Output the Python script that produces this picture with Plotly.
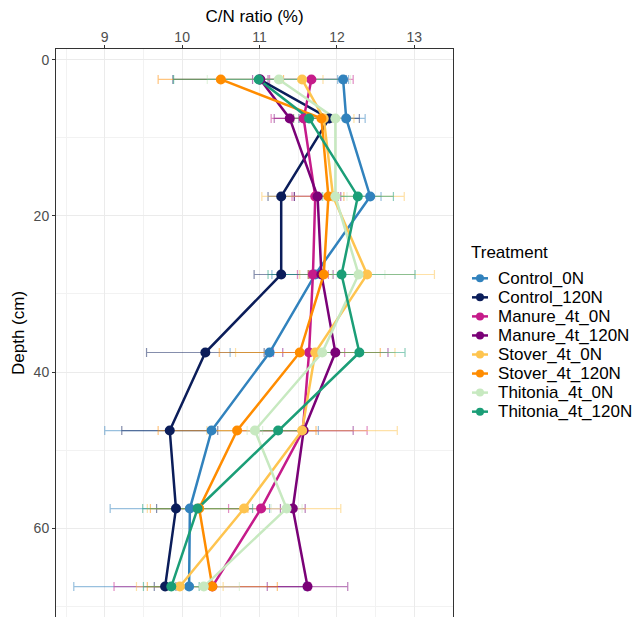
import plotly.graph_objects as go

# Sampling depths (cm)
depth = [2.5, 7.5, 17.5, 27.5, 37.5, 47.5, 57.5, 67.5]

treatments = ["Control_0N", "Control_120N", "Manure_4t_0N", "Manure_4t_120N",
              "Stover_4t_0N", "Stover_4t_120N", "Thitonia_4t_0N", "Thitonia_4t_120N"]

# Mean C/N ratio per depth
control_0n = [12.08, 12.12, 12.43, 11.72, 11.13, 10.38, 10.10, 10.09]
control_120n = [11.00, 11.90, 11.28, 11.28, 10.30, 9.84, 9.92, 9.78]
manure_0n = [11.67, 11.57, 11.72, 11.69, 11.64, 11.56, 11.02, 10.39]
manure_120n = [11.01, 11.39, 11.75, 11.80, 11.98, 11.57, 11.43, 11.62]
stover_0n = [11.55, 11.83, 11.95, 12.39, 11.72, 11.55, 10.80, 9.97]
stover_120n = [10.50, 11.80, 11.89, 11.83, 11.52, 10.71, 10.22, 10.39]
thitonia_0n = [11.25, 11.98, 11.98, 12.28, 11.81, 10.94, 11.35, 10.28]
thitonia_120n = [10.99, 11.64, 12.27, 12.06, 12.29, 11.24, 10.20, 9.86]

# Standard errors
control_0n_se = [0.07, 0.245, 0.14, 0.56, 0.51, 1.38, 1.03, 1.49]
control_120n_se = [1.12, 0.39, 0.17, 0.35, 0.76, 0.62, 0.25, 0.14]
manure_0n_se = [0.54, 0.42, 0.30, 0.20, 0.46, 0.83, 0.42, 1.27]
manure_120n_se = [0.10, 0.20, 0.30, 0.15, 0.68, 0.64, 0.16, 0.52]
stover_0n_se = [0.27, 0.39, 0.92, 0.87, 1.03, 1.23, 1.25, 0.56]
stover_120n_se = [0.81, 0.15, 0.20, 0.20, 1.04, 1.02, 0.63, 0.84]
thitonia_0n_se = [0.925, 0.10, 0.15, 0.34, 0.20, 0.10, 0.20, 0.46]
thitonia_120n_se = [1.10, 0.20, 0.46, 0.95, 0.59, 0.30, 0.71, 0.36]

means = [control_0n, control_120n, manure_0n, manure_120n,
         stover_0n, stover_120n, thitonia_0n, thitonia_120n]
errors = [control_0n_se, control_120n_se, manure_0n_se, manure_120n_se,
          stover_0n_se, stover_120n_se, thitonia_0n_se, thitonia_120n_se]

colors = ["#3182bd", "#0b1d5a", "#c51b8a", "#7a0177",
          "#fec44f", "#ff8c00", "#c7e9c0", "#1b9e77"]


def rgba(hex_color, alpha):
    h = hex_color.lstrip("#")
    r, g, b = int(h[0:2], 16), int(h[2:4], 16), int(h[4:6], 16)
    return f"rgba({r},{g},{b},{alpha})"


W, H = 640, 617
ML, MR, MT, MB = 56, 187, 49, 0
font_family = "Liberation Sans, Arial, Helvetica, sans-serif"
fig = go.Figure()

# Layer 1: horizontal error bars
for name, m, e, c in zip(treatments, means, errors, colors):
    fig.add_trace(go.Scatter(
        x=m, y=depth, mode="markers", showlegend=False,
        marker=dict(size=1, color="rgba(0,0,0,0)"),
        error_x=dict(type="data", array=e, visible=True, color=rgba(c, 0.5),
                     thickness=1.2, width=4.5),
        hoverinfo="skip"))

# Layer 2: profile lines
for name, m, c in zip(treatments, means, colors):
    fig.add_trace(go.Scatter(
        x=m, y=depth, mode="lines", showlegend=False,
        line=dict(color=c, width=2.5), hoverinfo="skip"))

# Layer 3: points
for name, m, c in zip(treatments, means, colors):
    fig.add_trace(go.Scatter(
        x=m, y=depth, mode="markers", name=name, showlegend=False,
        marker=dict(size=10, color=c)))

# Legend drawn as a key of paper-anchored shapes and labels
pw, ph = W - ML - MR, H - MT - MB


def px_x(x):
    return (x - ML) / pw


def px_y(y):
    return (H - MB - y) / ph


shapes = []
annotations = [dict(
    text="Treatment", xref="paper", yref="paper",
    x=px_x(469), y=px_y(253), xanchor="left", yanchor="middle",
    showarrow=False, font=dict(family=font_family, size=17, color="black"))]
for i, (name, c) in enumerate(zip(treatments, colors)):
    yc = 278.3 + i * 19.05
    shapes.append(dict(type="line", xref="paper", yref="paper",
                       x0=px_x(472), x1=px_x(488), y0=px_y(yc), y1=px_y(yc),
                       line=dict(color=c, width=2.5)))
    shapes.append(dict(type="circle", xref="paper", yref="paper",
                       x0=px_x(476), x1=px_x(484),
                       y0=px_y(yc + 4), y1=px_y(yc - 4),
                       fillcolor=c, line=dict(color=c, width=0)))
    annotations.append(dict(
        text=name, xref="paper", yref="paper",
        x=px_x(496), y=px_y(yc), xanchor="left", yanchor="middle",
        showarrow=False, font=dict(family=font_family, size=17, color="black")))

axis_common = dict(
    showline=True, linecolor="#333333", linewidth=1, mirror=True,
    showgrid=True, gridcolor="#ebebeb", gridwidth=1,
    ticks="outside", ticklen=3, tickcolor="#333333", tickwidth=1,
    tickfont=dict(family=font_family, size=14, color="#4d4d4d"),
    zeroline=False,
)

fig.update_layout(
    width=W, height=H,
    margin=dict(l=ML, r=MR, t=MT, b=MB),
    paper_bgcolor="white", plot_bgcolor="white",
    font=dict(family=font_family, color="black"),
    showlegend=False,
    shapes=shapes,
    annotations=annotations,
    xaxis=dict(
        **axis_common, side="top", range=[8.37, 13.5],
        tickvals=[9, 10, 11, 12, 13], ticklabelstandoff=-3,
        minor=dict(showgrid=True, gridcolor="#f2f2f2", gridwidth=1,
                   tickvals=[8.5, 9.5, 10.5, 11.5, 12.5, 13.5], ticks=""),
        title=dict(text="C/N ratio (%)", font=dict(size=17, color="black"),
                   standoff=2),
    ),
    yaxis=dict(
        **axis_common, range=[71.4, -1.4],
        tickvals=[0, 20, 40, 60],
        minor=dict(showgrid=True, gridcolor="#f2f2f2", gridwidth=1,
                   tickvals=[10, 30, 50, 70], ticks=""),
        title=dict(text="Depth (cm)", font=dict(size=17, color="black"),
                   standoff=4),
    ),
)

fig.write_html("out.html")
